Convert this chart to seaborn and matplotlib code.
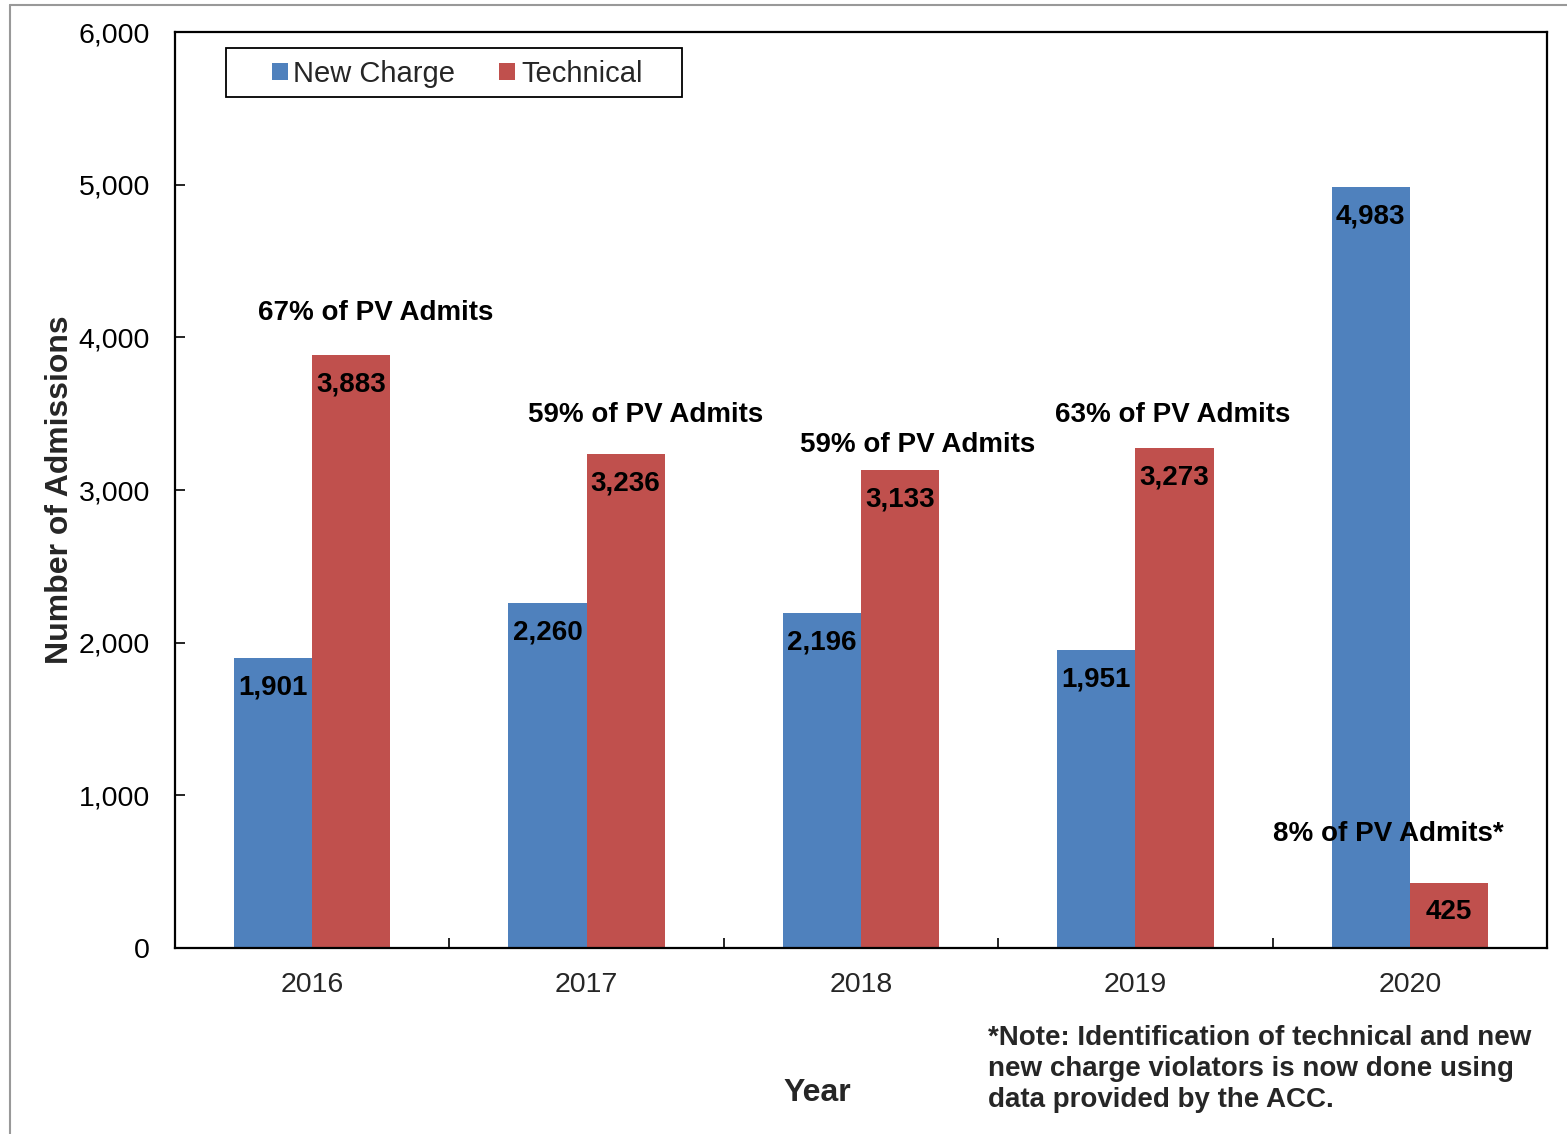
import matplotlib
matplotlib.use("Agg")
import matplotlib.pyplot as plt
import seaborn as sns
import pandas as pd
from matplotlib.lines import Line2D
from matplotlib.patches import Rectangle
from matplotlib.ticker import FixedLocator, FuncFormatter

years = ["2016", "2017", "2018", "2019", "2020"]
new_charge = [1901, 2260, 2196, 1951, 4983]
technical = [3883, 3236, 3133, 3273, 425]
series_names = ["New Charge", "Technical"]
pct_labels = ["67% of PV Admits", "59% of PV Admits", "59% of PV Admits",
              "63% of PV Admits", "8% of PV Admits*"]
note_text = ("*Note: Identification of technical and new\n"
             "new charge violators is now done using\n"
             "data provided by the ACC.")

df = pd.DataFrame({
    "Year": years * 2,
    "Series": [series_names[0]] * len(years) + [series_names[1]] * len(years),
    "Value": new_charge + technical,
})

sns.set_theme(style="white")
plt.rcParams["font.family"] = ["Liberation Sans", "DejaVu Sans"]

fig = plt.figure(figsize=(15.67, 11.34), dpi=100)
ax = fig.add_axes([175 / 1567, 1 - 948 / 1134, 1372 / 1567, 916 / 1134])

palette = {"New Charge": "#4F81BD", "Technical": "#C0504D"}
sns.barplot(data=df, x="Year", y="Value", hue="Series", order=years,
            hue_order=series_names, palette=palette, width=0.57,
            saturation=1, ax=ax, legend=True, edgecolor="none")

ax.set_xlim(-0.5, 4.5)
ax.set_ylim(0, 6000)
ax.yaxis.set_major_locator(FixedLocator([0, 1000, 2000, 3000, 4000, 5000, 6000]))
ax.yaxis.set_major_formatter(FuncFormatter(lambda v, p: f"{int(v):,}"))
ax.tick_params(axis="y", direction="in", length=7, width=1.2, labelsize=20.5,
               pad=18, left=True, colors="black")
ax.tick_params(axis="x", which="major", length=0, labelsize=20.5, pad=17)
ax.set_xticks([0.5, 1.5, 2.5, 3.5], minor=True)
ax.tick_params(axis="x", which="minor", direction="in", length=7, width=1.2,
               bottom=True, color="black")
for s in ax.spines.values():
    s.set_visible(True)
    s.set_color("black")
    s.set_linewidth(1.6)

ax.set_ylabel("Number of Admissions", fontsize=23, fontweight="bold")
ax.yaxis.set_label_coords(-0.073, 0.5)
ax.set_xlabel("Year", fontsize=23, fontweight="bold")
ax.xaxis.set_label_coords(0.468, -0.142)

# value labels inside bar tops
for cont in ax.containers:
    ax.bar_label(cont, labels=[f"{int(v):,}" for v in cont.datavalues],
                 label_type="edge", padding=-30.5, fontsize=20,
                 fontweight="bold", color="black")

# percentage annotations
pct_pos = [(0.233, 4160), (0.215, 3492), (0.208, 3296), (0.135, 3492), (-0.08, 748)]
for i, (lab, (dx, yv)) in enumerate(zip(pct_labels, pct_pos)):
    ax.text(i + dx, yv, lab, ha="center", va="center", fontsize=20,
            fontweight="bold", color="black")

# legend (frame drawn separately)
handles, labels = ax.get_legend_handles_labels()
leg = ax.legend(handles, labels, loc="center", ncol=2,
                bbox_to_anchor=(457 / 1567, 1 - 74 / 1134),
                bbox_transform=fig.transFigure, fontsize=21, frameon=False,
                handlelength=0.55, handleheight=0.55, handletextpad=0.2,
                columnspacing=1.5, borderpad=0.2, borderaxespad=0)
fig.add_artist(Rectangle((226 / 1567, 1 - 97 / 1134), 456 / 1567, 49 / 1134,
                         transform=fig.transFigure, fill=False,
                         edgecolor="black", lw=1.3))

fig.text(988 / 1567, 1 - 1025 / 1134, note_text, ha="left", va="top",
         fontsize=20, fontweight="bold", linespacing=1.26)

# figure outer border (gray)
fig.add_artist(Line2D([10 / 1567, 10 / 1567], [0, 1 - 5 / 1134],
                      transform=fig.transFigure, color="#999999", lw=1.5))
fig.add_artist(Line2D([10 / 1567, 1], [1 - 5 / 1134, 1 - 5 / 1134],
                      transform=fig.transFigure, color="#999999", lw=1.5))

fig.savefig("out.png", dpi=100, facecolor="white")
